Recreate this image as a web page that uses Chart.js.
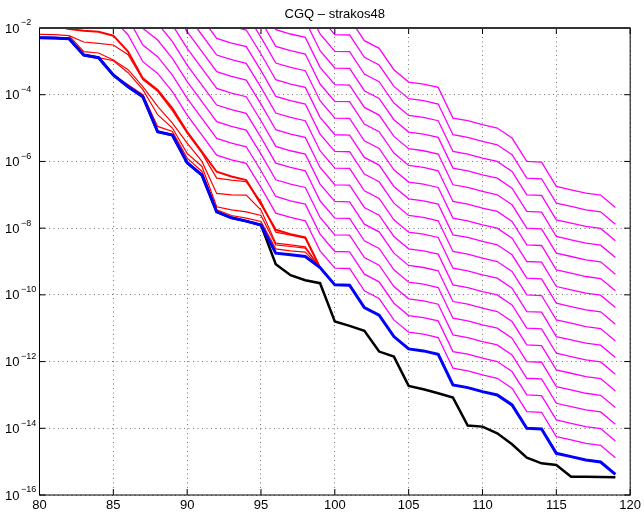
<!DOCTYPE html>
<html>
<head>
<meta charset="utf-8">
<script src="https://cdn.jsdelivr.net/npm/chart.js@4.4.1/dist/chart.umd.min.js"></script>
<style>
  body { margin: 0; background: #fff; }
</style>
</head>
<body>
<canvas id="myChart" width="644" height="513"></canvas>
<script>
// iterations on the x axis
const iters = [80, 81, 82, 83, 84, 85, 86, 87, 88, 89, 90, 91, 92, 93, 94, 95, 96, 97, 98, 99,
               100, 101, 102, 103, 104, 105, 106, 107, 108, 109, 110, 111, 112, 113, 114, 115, 116, 117, 118, 119];

// all values below are log10 of the plotted quantity
const errExact = [-2.29, -2.30, -2.32, -2.81, -2.89, -3.41, -3.76, -4.06, -5.11, -5.21,
                  -6.04, -6.41, -7.51, -7.69, -7.79, -7.91, -9.08, -9.41, -9.56, -9.65,
                  -10.80, -10.93, -11.08, -11.70, -11.85, -12.73, -12.83, -12.95, -13.08, -13.92,
                  -13.95, -14.15, -14.48, -14.88, -15.05, -15.10, -15.45, -15.45, -15.46, -15.47];

const estAdapt = [-2.29, -2.30, -2.32, -2.81, -2.89, -3.41, -3.76, -4.06, -5.11, -5.21,
                  -6.04, -6.41, -7.51, -7.69, -7.79, -7.91, -8.75, -8.80, -8.85, -9.18,
                  -9.70, -9.71, -10.38, -10.61, -11.25, -11.62, -11.68, -11.78, -12.70, -12.78,
                  -12.90, -13.00, -13.30, -14.00, -14.02, -14.75, -14.85, -14.95, -15.01, -15.38];

// red curves, iterations 80..99
const redTop = [-1.85, -1.93, -2.03, -2.08, -2.11, -2.23, -2.71, -3.51, -3.86, -4.41,
                -5.11, -5.71, -6.31, -6.45, -6.56, -7.28, -8.05, -8.18, -8.28, -9.18];
const red2 = [-2.19, -2.20, -2.23, -2.42, -2.46, -2.51, -2.80, -3.55, -3.90, -4.48,
              -5.15, -5.75, -6.50, -6.56, -6.61, -7.21, -8.12, -8.21, -8.30, -9.18];
const red3 = [null, null, -2.23, -2.71, -2.75, -2.96, -3.25, -3.76, -4.35, -4.85,
              -5.45, -6.00, -6.96, -7.00, -7.01, -7.46, -8.45, -8.50, -8.56, -9.19];
const red4 = [null, null, null, null, -2.89, -2.98, -3.34, -3.85, -4.60, -5.00,
              -5.76, -6.15, -7.36, -7.45, -7.51, -7.62, -8.50, -8.55, -8.60, -9.19];
const red5 = [null, null, null, null, null, -3.41, -3.70, -4.00, -4.95, -5.10,
              -5.90, -6.30, -7.45, -7.62, -7.70, -7.80, -8.62, -8.68, -8.72, -9.19];

// magenta family: base curve (top red curve, then the blue one) lifted by these decades
const magentaBase = [-1.85, -1.93, -2.03, -2.08, -2.11, -2.23, -2.71, -3.51, -3.86, -4.41,
                     -5.11, -5.71, -6.31, -6.45, -6.56, -7.28, -8.05, -8.18, -8.28, -9.18,
                     -9.70, -9.71, -10.38, -10.61, -11.25, -11.62, -11.68, -11.78, -12.70, -12.78,
                     -12.90, -13.00, -13.30, -14.00, -14.02, -14.75, -14.85, -14.95, -15.01, -15.38];
const magentaShift = [0.5, 1, 1.5, 2, 2.5, 3, 3.5, 4, 4.5, 5, 5.5, 6, 6.5, 7, 7.5, 8];

// axis ticks
const xTicks = [80, 85, 90, 95, 100, 105, 110, 115, 120];
const yTickExp = [-2, -4, -6, -8, -10, -12, -14, -16];
const titleText = 'CGQ \u2013 strakos48';

const ctx = document.getElementById('myChart');

function pts(logs) {
    return logs.map((v, i) => ({ x: iters[i], y: v === null ? null : Math.pow(10, v) }));
}

function line(logs, color, width, order) {
    return {
        data: pts(logs),
        borderColor: color,
        borderWidth: width,
        pointRadius: 0,
        tension: 0,
        spanGaps: false,
        order: order
    };
}

const datasets = [
    line(estAdapt, '#0000ff', 3, 0),
    line(errExact, '#000000', 2.5, 1),
    line(redTop, '#ff0000', 2, 2),
    line(red2, '#ff0000', 1.2, 2),
    line(red3, '#ff0000', 1.2, 2),
    line(red4, '#ff0000', 1.2, 2),
    line(red5, '#ff0000', 1.2, 2)
];
magentaShift.forEach(s => {
    datasets.push(line(magentaBase.map(v => v + s), '#ff00ff', 1.3, 3));
});

// box, inward tick marks, title over the plot and the 10^n labels
const frame = {
    id: 'frame',
    afterDraw(chart) {
        const c = chart.ctx, a = chart.chartArea;
        const xs = chart.scales.x, ys = chart.scales.y;
        c.save();
        c.strokeStyle = '#000';
        c.lineWidth = 1;
        c.strokeRect(a.left, a.top, a.right - a.left, a.bottom - a.top);
        c.beginPath();
        xTicks.forEach(t => {
            const px = xs.getPixelForValue(t);
            c.moveTo(px, a.bottom); c.lineTo(px, a.bottom - 6);
            c.moveTo(px, a.top); c.lineTo(px, a.top + 6);
        });
        yTickExp.forEach(e => {
            const py = ys.getPixelForValue(Math.pow(10, e));
            c.moveTo(a.left, py); c.lineTo(a.left + 6, py);
            c.moveTo(a.right, py); c.lineTo(a.right - 6, py);
        });
        c.stroke();
        c.strokeStyle = '#333';
        c.lineWidth = 2;
        c.beginPath();
        c.moveTo(a.left, a.top); c.lineTo(a.right, a.top);
        c.stroke();

        c.fillStyle = '#000';
        c.textBaseline = 'middle';
        c.textAlign = 'center';
        c.font = '13px "Liberation Sans", Arial, sans-serif';
        c.fillText(titleText, (a.left + a.right) / 2, 14);

        c.textAlign = 'left';
        yTickExp.forEach(e => {
            const py = ys.getPixelForValue(Math.pow(10, e));
            c.font = '13px "Liberation Sans", Arial, sans-serif';
            c.fillText('10', 5, py + 1);
            c.font = '9px "Liberation Sans", Arial, sans-serif';
            c.fillText('\u2212' + Math.abs(e), 21, py - 5);
        });
        c.restore();
    }
};

new Chart(ctx, {
    type: 'line',
    data: { datasets: datasets },
    plugins: [frame],
    options: {
        responsive: false,
        animation: false,
        devicePixelRatio: 1,
        layout: { padding: { left: 0, right: 12.5, top: 28, bottom: 0 } },
        plugins: {
            legend: { display: false },
            tooltip: { enabled: false },
            title: { display: false }
        },
        scales: {
            x: {
                type: 'linear',
                min: 80,
                max: 120,
                afterBuildTicks: s => { s.ticks = xTicks.map(v => ({ value: v })); },
                afterFit: s => { s.height = 18; },
                ticks: {
                    color: '#000',
                    padding: 3,
                    maxRotation: 0,
                    font: { family: '"Liberation Sans", Arial, sans-serif', size: 13 }
                },
                grid: { color: '#777', lineWidth: 1, drawTicks: false },
                border: { display: false, dash: [1, 3.5] }
            },
            y: {
                type: 'logarithmic',
                min: 1e-16,
                max: 1e-2,
                afterBuildTicks: s => { s.ticks = yTickExp.map(e => ({ value: Math.pow(10, e) })); },
                afterFit: s => { s.width = 39.5; },
                ticks: { display: false },
                grid: { color: '#777', lineWidth: 1, drawTicks: false },
                border: { display: false, dash: [1, 3.5] }
            }
        }
    }
});
</script>
</body>
</html>
